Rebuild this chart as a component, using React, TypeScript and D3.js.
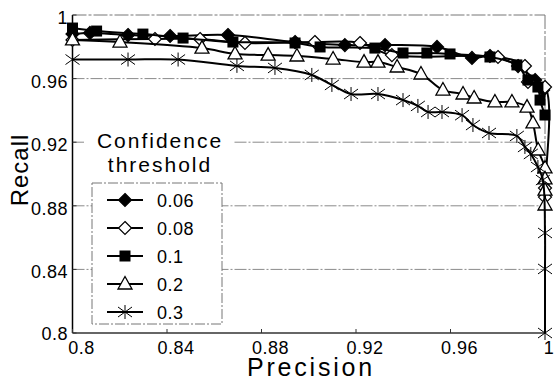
import React from 'react';
import * as d3 from 'd3';

// values
const p006 = [0.8, 0.8074, 0.8235, 0.8413, 0.8658, 0.8942, 0.9153, 0.9323, 0.9543, 0.9691, 0.9767, 0.9886, 0.9958, 0.9992];
const r006 = [0.988, 0.9887, 0.9874, 0.9868, 0.9874, 0.983, 0.9811, 0.9811, 0.9799, 0.973, 0.9742, 0.9679, 0.9591, 0.9528];

const p008 = [0.8, 0.8349, 0.854, 0.873, 0.9026, 0.9217, 0.9352, 0.9801, 0.9915, 0.9928, 1.0, 1.0, 1.0];
const r008 = [0.9843, 0.9849, 0.9849, 0.9824, 0.983, 0.9824, 0.9748, 0.9736, 0.9679, 0.9579, 0.9547, 0.8912, 0.8855];

const p01 = [0.8, 0.8102, 0.8298, 0.8468, 0.8679, 0.8942, 0.9048, 0.928, 0.9399, 0.95, 0.9598, 0.9767, 0.9881, 0.9928, 0.997, 0.9979, 1.0];
const r01 = [0.9918, 0.9899, 0.988, 0.9855, 0.983, 0.9824, 0.9799, 0.9792, 0.9761, 0.9761, 0.9755, 0.9736, 0.9686, 0.9591, 0.9547, 0.9465, 0.9371];

const p02 = [0.8, 0.8201, 0.8548, 0.8688, 0.8828, 0.895, 0.9103, 0.9234, 0.9293, 0.9374, 0.9475, 0.9568, 0.9653, 0.97, 0.9788, 0.986, 0.9924, 0.9949, 0.9971, 1.0, 1.0, 1.0, 1.0];
const r02 = [0.9843, 0.983, 0.9792, 0.9755, 0.9748, 0.9742, 0.9723, 0.9704, 0.9704, 0.9673, 0.9629, 0.9528, 0.9503, 0.9478, 0.9453, 0.9453, 0.9421, 0.9321, 0.9151, 0.9038, 0.8969, 0.8899, 0.8805];

const p03 = [0.8, 0.8235, 0.8447, 0.8696, 0.8857, 0.9013, 0.9098, 0.9179, 0.9293, 0.9399, 0.9462, 0.9505, 0.9564, 0.9649, 0.9695, 0.9763, 0.9881, 0.9915, 0.994, 0.997, 0.9991, 1.0, 1.0, 1.0];
const r03 = [0.972, 0.972, 0.972, 0.968, 0.9667, 0.9623, 0.956, 0.9503, 0.9503, 0.9465, 0.9428, 0.939, 0.939, 0.937, 0.9308, 0.9258, 0.9239, 0.917, 0.9126, 0.9044, 0.8962, 0.8629, 0.8403, 0.8];

const seriesNames = ['0.06', '0.08', '0.1', '0.2', '0.3'];
const seriesP = [p006, p008, p01, p02, p03];
const seriesR = [r006, r008, r01, r02, r03];
const markerKinds = ['diamondFilled', 'diamondOpen', 'square', 'triangle', 'star'];

const tickVals = [0.8, 0.84, 0.88, 0.92, 0.96, 1];
const tickLabels = ['0.8', '0.84', '0.88', '0.92', '0.96', '1'];

const W = 555, H = 381;
const left = 72.5, right = 545, top = 15, bottom = 333;
const font = 'Arial, "Liberation Sans", sans-serif';

function Marker({ kind, x, y }: { kind: string; x: number; y: number }) {
  if (kind === 'diamondFilled' || kind === 'diamondOpen') {
    const s = 6.5;
    return <polygon points={`${x},${y - s} ${x + s},${y} ${x},${y + s} ${x - s},${y}`}
      fill={kind === 'diamondFilled' ? '#000' : '#fff'} stroke="#000" strokeWidth={1.2} />;
  }
  if (kind === 'square') {
    return <rect x={x - 5.5} y={y - 5.5} width={11} height={11} fill="#000" />;
  }
  if (kind === 'triangle') {
    return <polygon points={`${x},${y - 7.5} ${x + 7},${y + 5} ${x - 7},${y + 5}`}
      fill="#fff" stroke="#000" strokeWidth={1.3} />;
  }
  // star: X with a vertical bar
  return (
    <g stroke="#000" strokeWidth={1}>
      <line x1={x} y1={y - 7} x2={x} y2={y + 7} />
      <line x1={x - 7} y1={y - 5} x2={x + 7} y2={y + 5} />
      <line x1={x - 7} y1={y + 5} x2={x + 7} y2={y - 5} />
    </g>
  );
}

export default function App() {
  const xScale = d3.scaleLinear().domain([0.8, 1]).range([left, right]);
  const yScale = d3.scaleLinear().domain([0.8, 1]).range([bottom, top]);

  const line = d3.line<[number, number]>()
    .x(d => xScale(d[0]))
    .y(d => yScale(d[1]))
    .curve(d3.curveCatmullRom.alpha(0.5));

  const gridDash = '12 2 2 2';

  const legendX = 92, legendY = 183, legendW = 130, legendH = 141, rowH = 28;

  return (
    <svg width={W} height={H} style={{ position: 'absolute', left: 0, top: 0, background: '#fff' }}
      fontFamily={font}>
      <rect width={W} height={H} fill="#fff" />

      {/* gridlines */}
      {tickVals.slice(1, 5).map(v => (
        <line key={v} x1={left} x2={right} y1={yScale(v)} y2={yScale(v)}
          stroke="#8a8a8a" strokeWidth={1} strokeDasharray={gridDash} />
      ))}
      {/* frame */}
      <line x1={left} x2={right} y1={top} y2={top} stroke="#777" strokeWidth={1} strokeDasharray="14 2 3 2" />
      <line x1={right} x2={right} y1={top} y2={bottom} stroke="#777" strokeWidth={1} strokeDasharray="14 2 3 2" />
      <line x1={left} x2={right} y1={bottom} y2={bottom} stroke="#333" strokeWidth={1.3} />
      <line x1={left} x2={left} y1={top} y2={bottom} stroke="#000" strokeWidth={1.5} />

      {/* ticks */}
      {tickVals.map(v => (
        <line key={'xt' + v} x1={xScale(v)} x2={xScale(v)} y1={bottom} y2={bottom - 4} stroke="#333" />
      ))}
      {tickVals.map(v => (
        <line key={'yt' + v} x1={left} x2={left + 4} y1={yScale(v)} y2={yScale(v)} stroke="#333" />
      ))}

      {/* y tick labels */}
      {tickVals.map((v, i) => (
        <text key={'yl' + v} x={68} y={yScale(v) + (i === 0 ? 7 : 9)} textAnchor="end"
          fontSize={18} letterSpacing={0.5} fill="#000">{tickLabels[i]}</text>
      ))}
      {/* x tick labels */}
      {tickVals.map((v, i) => (
        <text key={'xl' + v} x={xScale(v) + (i === 5 ? 4 : 9)} y={354} textAnchor="middle"
          fontSize={18} letterSpacing={0.5} fill="#000">{tickLabels[i]}</text>
      ))}

      {/* axis titles */}
      <text x={311} y={376} textAnchor="middle" fontSize={25} letterSpacing={2.8} fill="#000">Precision</text>
      <text transform={`translate(28,170) rotate(-90)`} textAnchor="middle" fontSize={24}
        letterSpacing={1} fill="#000">Recall</text>

      {/* legend title */}
      <rect x={84} y={128} width={150} height={50} fill="#fff" />
      <text x={160} y={148} textAnchor="middle" fontSize={21} letterSpacing={2} fill="#000">Confidence</text>
      <text x={160} y={172} textAnchor="middle" fontSize={21} letterSpacing={2} fill="#000">threshold</text>

      {/* legend box */}
      <rect x={legendX} y={legendY} width={legendW} height={legendH} fill="#fff"
        stroke="#777" strokeWidth={1} strokeDasharray="10 2 2 2" />
      {seriesNames.map((name, i) => {
        const cy = legendY + 17 + i * rowH;
        return (
          <g key={name}>
            <line x1={107} x2={143} y1={cy} y2={cy} stroke="#000" strokeWidth={2} />
            <Marker kind={markerKinds[i]} x={125} y={cy} />
            <text x={157} y={cy + 7} fontSize={18} letterSpacing={0.5} fill="#000">{name}</text>
          </g>
        );
      })}

      {/* series */}
      {seriesNames.map((name, i) => {
        const pts: [number, number][] = seriesP[i].map((p, j) => [p, seriesR[i][j]]);
        return (
          <g key={'s' + name}>
            <path d={line(pts) || ''} fill="none" stroke="#000" strokeWidth={2} />
            {pts.map((d, j) => (
              <Marker key={j} kind={markerKinds[i]} x={xScale(d[0])} y={yScale(d[1])} />
            ))}
          </g>
        );
      })}
    </svg>
  );
}
